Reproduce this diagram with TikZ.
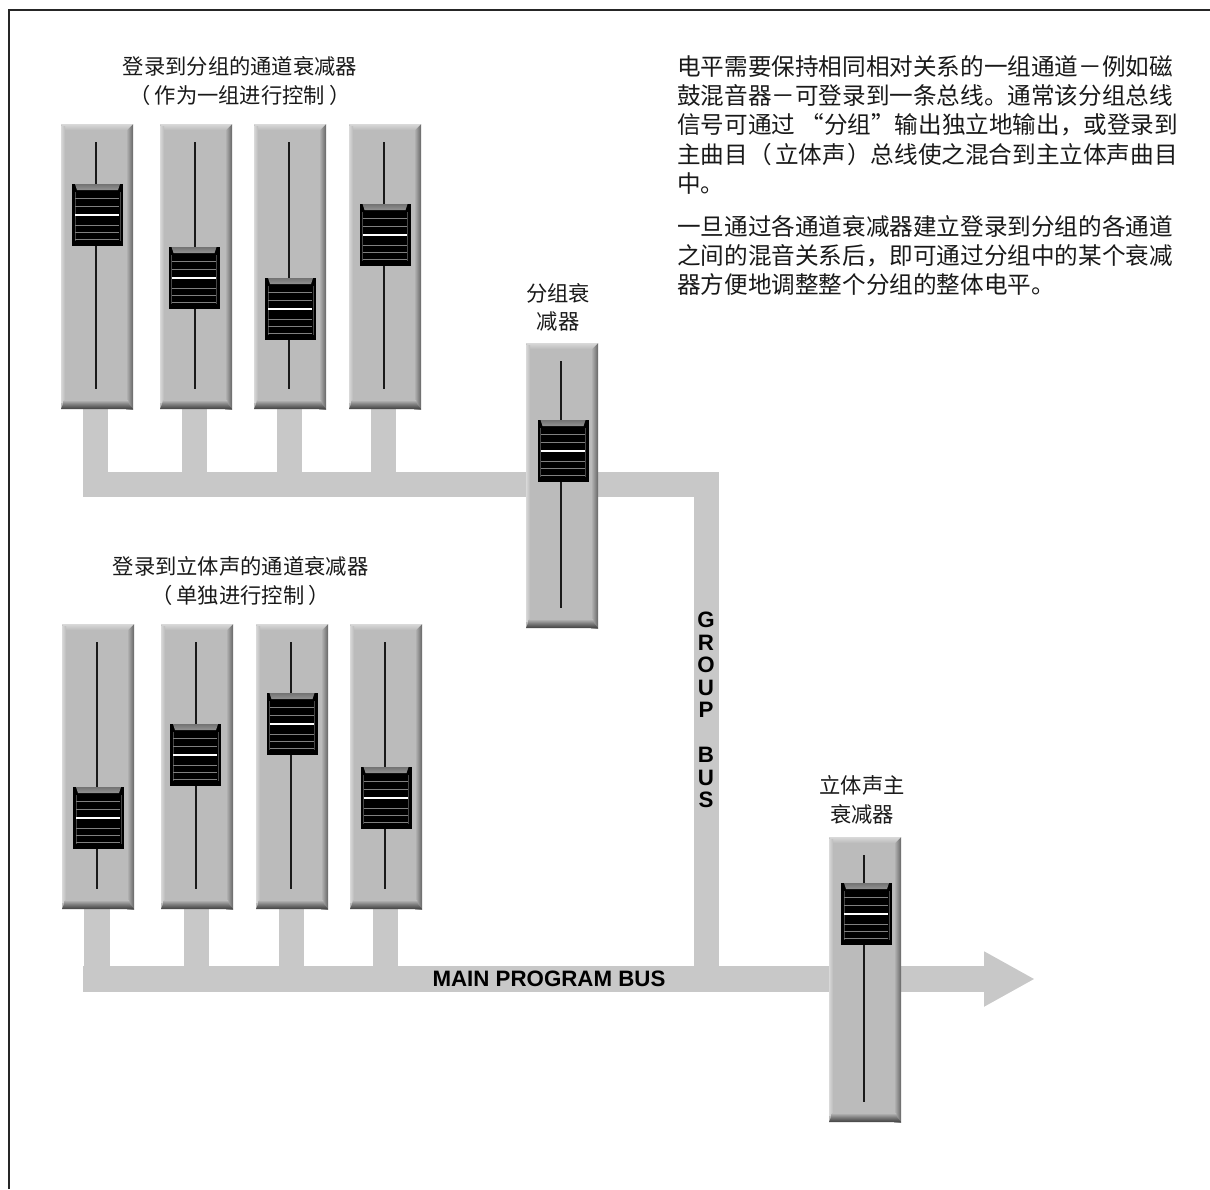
\documentclass[tikz,border=0pt]{standalone}
\usepackage{fontspec}
\setmainfont{Liberation Sans}
\newfontfamily\cjk{Noto Sans CJK SC}
\usetikzlibrary{backgrounds,arrows.meta}
\definecolor{busgrey}{HTML}{C8C8C8}
\definecolor{panelgrey}{HTML}{BBBBBB}
\tikzset{
  x=1pt,y=-1pt,
  frameline/.style={draw=black!85,line width=2pt},
  bus/.style={draw=busgrey,line width=25.5pt,line cap=butt,line join=miter},
  panel/.style={fill=panelgrey,minimum width=72pt,minimum height=285pt,inner sep=0pt,anchor=north west},
  knob/.style={fill=black,minimum width=51pt,minimum height=62pt,inner sep=0pt,anchor=north west},
  slot/.style={draw=black!90,line width=1.6pt},
  rib/.style={draw=black!50,line width=0.8pt},
  ribwhite/.style={draw=white,line width=1.6pt},
  cnlabel/.style={font=\cjk\fontsize{21.3pt}{28.5pt}\selectfont,align=center,text=black!90,inner sep=0pt},
  para/.style={font=\cjk\fontsize{23.6pt}{29.3pt}\selectfont,align=left,text=black!90,inner sep=0pt,anchor=north west},
  buslabel/.style={font=\bfseries\fontsize{22.3pt}{22.5pt}\selectfont,align=center,inner sep=0pt}
}
% name, panel x, panel y, knob offset x, knob y
\newcommand{\faderunit}[5]{%
  \node[panel] (#1) at (#2,#3) {};
  \begin{scope}[shift={(#2,#3)}]
    \shade[left color=panelgrey,right color=black!60] (65,0) rectangle (72,285);
    \shade[top color=white!85!black,bottom color=panelgrey] (0,0) -- (72,0) -- (66,6) -- (2,6) -- cycle;
    \shade[left color=white!85!black,right color=panelgrey] (0,2) rectangle (4,278);
    \shade[top color=panelgrey,bottom color=black!50] (3,276) -- (67,276) -- (68,280) -- (2,280) -- cycle;
    \shade[top color=black!50,bottom color=black!75] (2,280) -- (68,280) -- (72,285) -- (0,285) -- cycle;
    \draw[slot] (35,18) -- (35,265);
  \end{scope}
  \node[knob] (#1k) at (#2+#4,#5) {};
  \begin{scope}[shift={(#2+#4,#5)}]
    \shade[top color=black!55,bottom color=black!42] (3,0) -- (48,0) -- (46,6) -- (5,6) -- cycle;
    \draw[draw=black!72,line width=0.8pt] (3,8) -- (3,57) (48,8) -- (48,57);
    \draw[rib] (3,14) -- (47,14) (3,22) -- (47,22) (3,41) -- (47,41) (3,48) -- (47,48) (3,55) -- (47,55);
    \draw[ribwhite] (3,31) -- (47,31);
  \end{scope}
}
\begin{document}
\begin{tikzpicture}
\useasboundingbox (0,0) rectangle (1210,1189);
\coordinate (fb) at (9,1189);
\coordinate (fc) at (9,10);
\coordinate (fr) at (1210,10);
\draw[frameline] (fb) -- (fc) -- (fr);

\faderunit{a1}{61}{124}{11}{184}
\faderunit{a2}{160}{124}{8.5}{247}
\faderunit{a3}{254}{124}{11}{278}
\faderunit{a4}{349}{124}{10.5}{204}
\faderunit{b1}{62}{624}{11}{787}
\faderunit{b2}{161}{624}{9}{724}
\faderunit{b3}{256}{624}{10.5}{693}
\faderunit{b4}{350}{624}{10.5}{767}
\faderunit{g}{526}{343}{11.5}{420}
\faderunit{m}{829}{837}{12}{883}

\coordinate (tl) at (83,484.5);
\coordinate (tc) at (706.5,484.5);
\coordinate (gb) at (706.5,979);
\coordinate (ml) at (83,979);
\coordinate (tip) at (1035,979);
\coordinate (t1) at (95.5,484.5);
\coordinate (t2) at (194.5,484.5);
\coordinate (t3) at (289.5,484.5);
\coordinate (t4) at (383.5,484.5);
\coordinate (m1) at (97,979);
\coordinate (m2) at (196.5,979);
\coordinate (m3) at (291.5,979);
\coordinate (m4) at (385.5,979);
\begin{scope}[on background layer]
  \draw[bus] (tl) -- (tc) -- (gb);
  \draw[bus,-{Triangle[length=51pt,width=51.5pt]}] (ml) -- (tip);
  \draw[bus] (t1 |- a1.south) -- (t1);
  \draw[bus] (t2 |- a2.south) -- (t2);
  \draw[bus] (t3 |- a3.south) -- (t3);
  \draw[bus] (t4 |- a4.south) -- (t4);
  \draw[bus] (m1 |- b1.south) -- (m1);
  \draw[bus] (m2 |- b2.south) -- (m2);
  \draw[bus] (m3 |- b3.south) -- (m3);
  \draw[bus] (m4 |- b4.south) -- (m4);
\end{scope}

\node[cnlabel] (la) at (240,81) {登录到分组的通道衰减器\\（\kern4pt 作为一组进行控制\kern4pt ）};
\node[cnlabel] (lb) at (240.5,581) {登录到立体声的通道衰减器\\（\kern4pt 单独进行控制\kern4pt ）};
\node[cnlabel] (lg) at (558,307.5) {分组衰\\减器};
\node[cnlabel] (lm) at (862,800) {立体声主\\衰减器};

\node[para] (p1) at (677,55) {电平需要保持相同相对关系的一组通道－例如磁\\
鼓混音器－可登录到一条总线。通常该分组总线\\
信号可通过 “分组”输出独立地输出，或登录到\\
主曲目（\kern3.5pt 立体声\kern1.5pt ）总线使之混合到主立体声曲目\\
中。};
\node[para] (p2) at (677,215) {一旦通过各通道衰减器建立登录到分组的各通道\\
之间的混音关系后，即可通过分组中的某个衰减\\
器方便地调整整个分组的整体电平。};

\node[buslabel] (gbl) at (706,710) {G\\R\\O\\U\\P\\ \\B\\U\\S};
\node[buslabel] (mbl) at (549,979) {MAIN PROGRAM BUS};
\end{tikzpicture}
\end{document}
